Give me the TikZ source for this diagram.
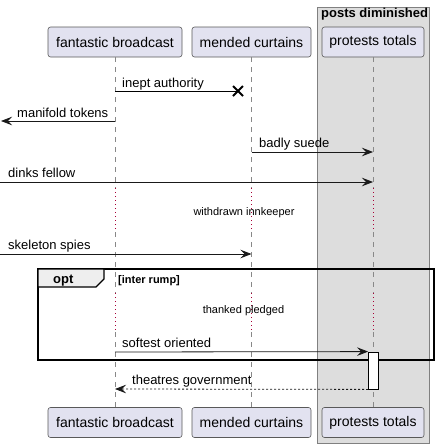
\documentclass[tikz,border=0pt]{standalone}
\usepackage{fontspec}
\setmainfont{Liberation Sans}
\usetikzlibrary{arrows.meta}
\definecolor{partfill}{HTML}{E2E2F0}
\definecolor{boxfill}{HTML}{DDDDDD}
\definecolor{tabfill}{HTML}{EEEEEE}
\definecolor{delayred}{HTML}{A80036}
\definecolor{linegray}{HTML}{888888}

\begin{document}
\begin{tikzpicture}[x=1pt,y=-1pt,
    actor/.style={draw=black!65, fill=partfill, rounded corners=2.5pt, line width=0.6pt,
        minimum height=30pt, inner sep=0pt, font=\fontsize{14}{16}\selectfont},
    lifeline/.style={draw=linegray, dash pattern=on 5pt off 5pt, line width=0.6pt},
    delayline/.style={draw=delayred, dash pattern=on 1pt off 3pt, line width=0.8pt},
    msg/.style={draw=black!90, line width=0.8pt, -{Stealth[length=11pt,width=8.5pt,inset=4pt]}},
    retmsg/.style={msg, dash pattern=on 2pt off 2pt},
    lbl/.style={anchor=base west, inner sep=0pt, font=\fontsize{13}{15}\selectfont},
    delaytxt/.style={anchor=base, inner sep=0pt, font=\fontsize{11}{13}\selectfont}]
    \useasboundingbox (0,0) rectangle (439,448);

    % Caja del grupo
    \draw[draw=black!50, fill=boxfill, line width=0.8pt] (317,7) rectangle (429,443);
    \node[anchor=base west, inner sep=0pt, font=\fontsize{13}{15}\selectfont\bfseries] (boxtitle) at (321,17) {posts diminished};

    % Participantes arriba y abajo
    \foreach \p/\x/\w/\txt in {fb/115/134/fantastic broadcast, mc/251.5/119/mended curtains, pt/373/102/protests totals} {
        \node[actor, minimum width=\w] (\p-top) at (\x,42) {\txt};
        \node[actor, minimum width=\w] (\p-bot) at (\x,422.5) {\txt};
    }

    % Lineas de vida, punteadas en las esperas
    \foreach \p in {fb,mc,pt} {
        \draw[lifeline] (\p-top.south) -- (\p-top.south |- 0,188);
        \draw[delayline] (\p-top.south |- 0,188) -- (\p-top.south |- 0,232);
        \draw[lifeline] (\p-top.south |- 0,232) -- (\p-top.south |- 0,293);
        \draw[delayline] (\p-top.south |- 0,293) -- (\p-top.south |- 0,332);
        \draw[lifeline] (\p-top.south |- 0,332) -- (\p-bot.north);
    }

    % Textos de espera
    \node[delaytxt] (wait1) at (244,215) {withdrawn innkeeper};
    \node[delaytxt] (wait2) at (243.5,313) {thanked pledged};

    % Marco opt
    \draw[line width=1.5pt] (38,269) rectangle (434,360);
    \draw[line width=1.2pt, fill=tabfill] (38,269) -- (104,269) -- (104,279) -- (96,287) -- (38,287) -- cycle;
    \node[anchor=base west, inner sep=0pt, font=\fontsize{13}{15}\selectfont\bfseries] (opttab) at (53,283) {opt};
    \node[anchor=base west, inner sep=0pt, font=\fontsize{11}{13}\selectfont\bfseries] (optcond) at (118,283) {[inter rump]};

    % Mensajes
    \coordinate (ineptS) at (fb-top.south |- 0,91);
    \coordinate (ineptX) at (238,91);
    \draw[line width=0.8pt] (ineptS) -- (ineptX);
    \draw[line width=1.8pt] (ineptX) ++(-5,-5) -- ++(10,10) (ineptX) ++(-5,5) -- ++(10,-10);
    \node[lbl] (ineptL) at (122,87) {inept authority};

    \coordinate (tokS) at (fb-top.south |- 0,121);
    \coordinate (tokE) at (1,121);
    \draw[msg] (tokS) -- (tokE);
    \node[lbl] (tokL) at (17,117) {manifold tokens};

    \coordinate (suedeS) at (mc-top.south |- 0,152);
    \coordinate (suedeE) at (pt-top.south |- 0,152);
    \draw[msg] (suedeS) -- (suedeE);
    \node[lbl] (suedeL) at (259,147.5) {badly suede};

    \coordinate (dinksS) at (0,182);
    \coordinate (dinksE) at (pt-top.south |- 0,182);
    \draw[msg] (dinksS) -- (dinksE);
    \node[lbl] (dinksL) at (8,177.5) {dinks fellow};

    \coordinate (spiesS) at (0,254);
    \coordinate (spiesE) at (mc-top.south |- 0,254);
    \draw[msg] (spiesS) -- (spiesE);
    \node[lbl] (spiesL) at (8,249.5) {skeleton spies};

    % Activacion
    \node[draw, fill=white, line width=0.8pt, minimum width=10pt, minimum height=37pt, inner sep=0pt] (act) at (373.5,370.5) {};

    \coordinate (softS) at (fb-top.south |- 0,352);
    \draw[msg] (softS) -- (act.north west);
    \node[lbl] (softL) at (122,347.5) {softest oriented};

    \coordinate (theaE) at (fb-top.south |- 0,389);
    \draw[retmsg] (act.south west) -- (theaE);
    \node[lbl] (theaL) at (132,384.5) {theatres government};
\end{tikzpicture}
\end{document}
